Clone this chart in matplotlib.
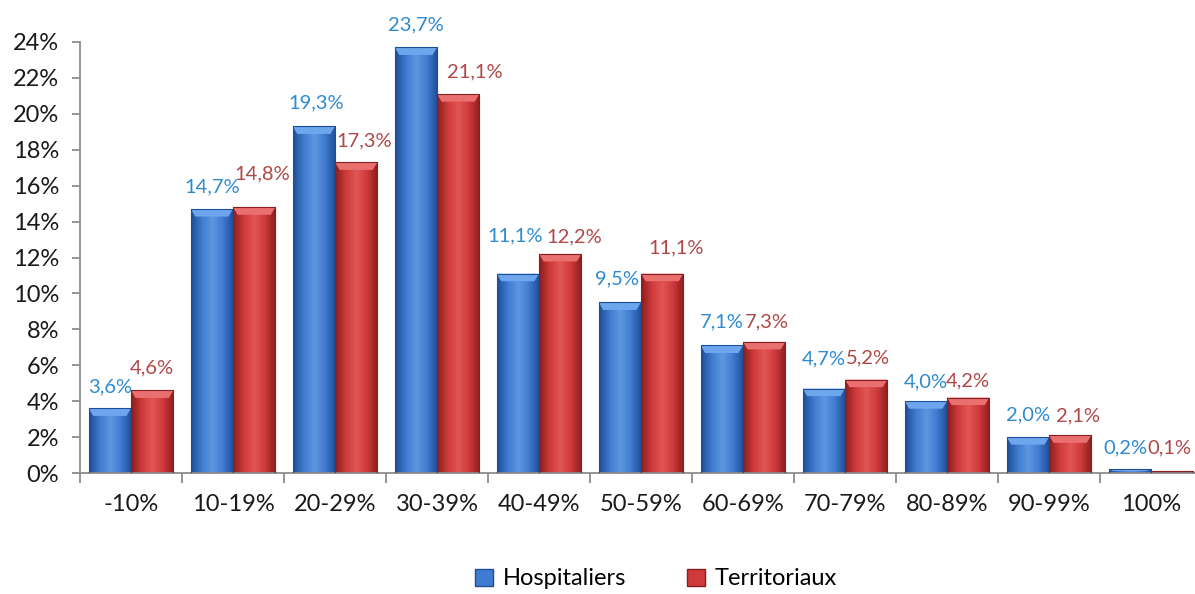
import numpy as np
import matplotlib
matplotlib.use("Agg")
import matplotlib.pyplot as plt
from matplotlib.patches import Rectangle, Polygon
from matplotlib.colors import LinearSegmentedColormap
from matplotlib.ticker import FuncFormatter, MultipleLocator

categories = ["-10%", "10-19%", "20-29%", "30-39%", "40-49%", "50-59%",
              "60-69%", "70-79%", "80-89%", "90-99%", "100%"]
hospitaliers = [3.6, 14.7, 19.3, 23.7, 11.1, 9.5, 7.1, 4.7, 4.0, 2.0, 0.2]
territoriaux = [4.6, 14.8, 17.3, 21.1, 12.2, 11.1, 7.3, 5.2, 4.2, 2.1, 0.1]
series_names = ["Hospitaliers", "Territoriaux"]

# hand-placed label nudges (pixels): horizontal shift, gap above bar top
label_dx = [
    [0, 0, 2, 0, -3, -3, 0, 0, 0, 0, -4],
    [0, 8, 8, 17, 14, 14, 3, 2, 0, 8, -3],
]
label_gap = [
    [16, 17, 18, 17, 32, 18, 18, 24, 14, 17, 16],
    [17, 28, 16, 17, 12, 20, 15, 16, 11, 14, 18],
]

plt.rcParams["font.family"] = ["Lato", "DejaVu Sans"]

W, H = 1195, 594
fig = plt.figure(figsize=(W / 100, H / 100), dpi=100)
ax = fig.add_axes([80 / W, 121 / H, 1122 / W, 431 / H])

n = len(categories)
x = np.arange(n)
bw = 0.415

styles = [
    dict(dark="#1f4e96", mid="#3f7bd0", light="#5f97e2", top="#6ea6ee",
         label="#2e8bd0"),
    dict(dark="#8a1e1e", mid="#cf3a3a", light="#e05656", top="#ea7070",
         label="#b04848"),
]

ax.set_xlim(-0.5, n - 0.5)
ax.set_ylim(0, 24)


def draw_bar(x0, h, st):
    if h <= 0:
        return
    cmap = LinearSegmentedColormap.from_list(
        "g", [st["dark"], st["mid"], st["light"], st["mid"], st["dark"]])
    grad = np.linspace(0, 1, 64)[None, :]
    rect = Rectangle((x0, 0), bw, h, facecolor="none", edgecolor="none")
    ax.add_patch(rect)
    im = ax.imshow(grad, extent=(x0, x0 + bw, 0, h), aspect="auto",
                   cmap=cmap, origin="lower", zorder=2, interpolation="bilinear")
    im.set_clip_path(rect)
    # bevelled top
    bh = min(0.42, h * 0.45)
    bx = 0.045
    top = Polygon([(x0, h), (x0 + bw, h), (x0 + bw - bx, h - bh),
                   (x0 + bx, h - bh)], closed=True, facecolor=st["top"],
                   edgecolor="none", zorder=3)
    ax.add_patch(top)
    ax.add_patch(Rectangle((x0, 0), bw, h, facecolor="none",
                           edgecolor=st["dark"], linewidth=0.8, zorder=4))


for i in range(n):
    for s, vals in enumerate([hospitaliers, territoriaux]):
        x0 = x[i] - bw + s * bw
        draw_bar(x0, vals[i], styles[s])
        ax.annotate(f"{vals[i]:.1f}%".replace(".", ","),
                    xy=(x0 + bw / 2, vals[i]),
                    xytext=(label_dx[s][i], label_gap[s][i]),
                    textcoords="offset pixels", ha="center", va="baseline",
                    fontsize=14.5, color=styles[s]["label"], zorder=5,
                    annotation_clip=False)

for sp in ["top", "right"]:
    ax.spines[sp].set_visible(False)
for sp in ["left", "bottom"]:
    ax.spines[sp].set_color("#8c8c8c")
    ax.spines[sp].set_linewidth(1.3)

ax.yaxis.set_major_locator(MultipleLocator(2))
ax.yaxis.set_major_formatter(FuncFormatter(lambda v, p: f"{v:.0f}%"))
ax.tick_params(axis="y", length=6, width=1.3, color="#8c8c8c",
               labelsize=17, labelcolor="#1a1a1a", pad=9)

ax.set_xticks(np.arange(n + 1) - 0.5)
ax.set_xticklabels([])
ax.set_xticks(x, minor=True)
ax.set_xticklabels(categories, minor=True)
ax.tick_params(axis="x", which="major", length=7, width=1.3, color="#8c8c8c")
ax.tick_params(axis="x", which="minor", length=0, labelsize=17,
               labelcolor="#1a1a1a", pad=15)

# legend
handles = [Rectangle((0, 0), 1, 1, facecolor=st["mid"], edgecolor=st["dark"])
           for st in styles]
fig.legend(handles, series_names, loc="lower center",
           bbox_to_anchor=(0.549, -0.028), ncol=2, frameon=False,
           fontsize=17, handlelength=0.75, handleheight=0.75,
           handletextpad=0.4, columnspacing=2.6)

fig.savefig("out.png", dpi=100)
